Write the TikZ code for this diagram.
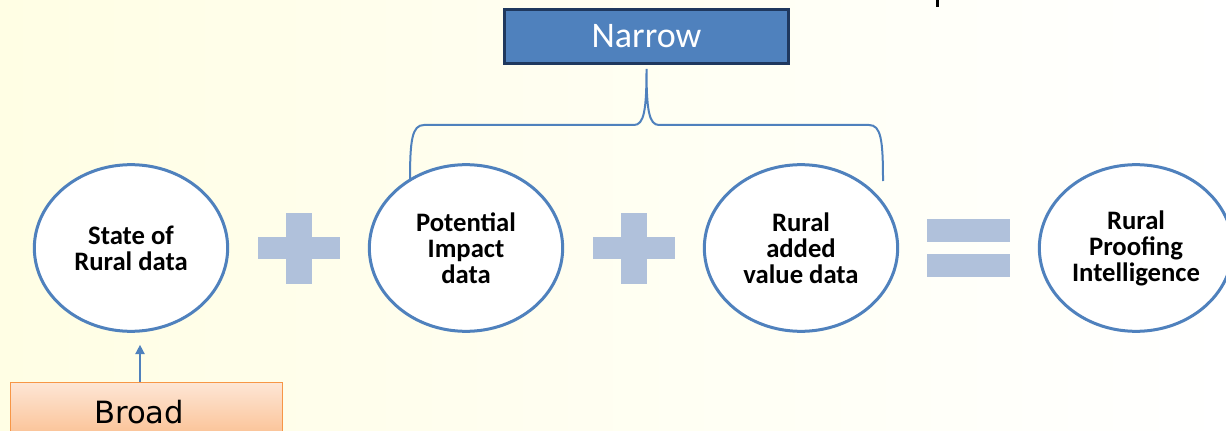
\documentclass[tikz,border=0pt]{standalone}
\usepackage{fontspec}
\setmainfont{Carlito}
\newfontfamily\broadfont{DejaVu Sans}
\usetikzlibrary{shapes.geometric}
\usetikzlibrary{positioning}
\usetikzlibrary{arrows.meta}

\definecolor{ringblue}{RGB}{79,129,189}
\definecolor{signblue}{RGB}{176,193,219}
\definecolor{navyedge}{RGB}{31,56,94}
\definecolor{peachtop}{RGB}{253,230,214}
\definecolor{peachbot}{RGB}{251,190,142}
\definecolor{orangeedge}{RGB}{247,150,70}
\definecolor{paleyellow}{RGB}{255,254,228}

\begin{document}
\begin{tikzpicture}
[x=0.75pt,y=-0.75pt,node distance=251.25pt,on grid,>={Triangle[width=7pt,length=7pt]},%
  data/.style={ellipse,draw=ringblue,line width=2.25pt,fill=white,minimum width=145pt,
    minimum height=125pt,inner sep=0pt,align=center,font=\bfseries\fontsize{20}{19.5}\selectfont},
  bar/.style={rectangle,fill=signblue,inner sep=0pt},
  bracket/.style={draw=ringblue,line width=1.5pt}]
%% background
\useasboundingbox (0,0) rectangle (1226,431);
\shade[left color=paleyellow,right color=white] (0,0) rectangle (1226,431);
\fill (935.5,0) rectangle (938.5,7);
%% data circles
\node[data] (state) at (131,248) {State of\\Rural data};
\node[data] (impact) [right=of state] {Potential\\Impact\\data};
\node[data] (added) [right=of impact] {Rural\\added\\value data};
\node[data] (proof) [right=of added] {Rural\\Proofing\\Intelligence};
%% signs
\path (state) -- (impact) coordinate[midway] (plus1);
\path (impact) -- (added) coordinate[midway] (plus2);
\path (added) -- (proof) coordinate[midway] (equal);
\node[bar,minimum width=61.5pt,minimum height=16.5pt] (plus1h) at (plus1) {};
\node[bar,minimum width=19.5pt,minimum height=53.25pt] (plus1v) at (plus1) {};
\node[bar,minimum width=61.5pt,minimum height=16.5pt] (plus2h) at (plus2) {};
\node[bar,minimum width=19.5pt,minimum height=53.25pt] (plus2v) at (plus2) {};
\node[bar,minimum width=62pt,minimum height=17pt] (equalt) at ([yshift=13pt]equal) {};
\node[bar,minimum width=62pt,minimum height=17pt] (equalb) at ([yshift=-13pt]equal) {};
%% narrow and broad
\node[draw=navyedge,line width=2.25pt,fill=ringblue,text=white,minimum width=213pt,
  minimum height=40.5pt,font=\fontsize{27}{30}\selectfont] (narrow) at (646.5,36.5) {Narrow};
\node[draw=orangeedge,line width=0.75pt,top color=peachtop,bottom color=peachbot,
  minimum width=204pt,minimum height=45pt,font=\broadfont\fontsize{23}{26}\selectfont]
  (broad) at (146,412) {\hspace*{-10.5pt}Broad};
%% brace and arrow
\coordinate (bl) at (410,181);
\coordinate (br) at (883,181);
\coordinate (tip) at (646.5,69);
\draw[bracket] (bl) .. controls (410,140) and (412,125) .. (424,125) -- (634,125)
  .. controls (644,125) and (646.5,110) .. (tip)
  .. controls (646.5,110) and (649,125) .. (659,125) -- (869,125)
  .. controls (881,125) and (883,140) .. (br);
\draw[->,ringblue,line width=1.1pt] ([xshift=-4.5pt]broad.north) -- ([xshift=6.75pt,yshift=-9pt]state.south);
\end{tikzpicture}
\end{document}
